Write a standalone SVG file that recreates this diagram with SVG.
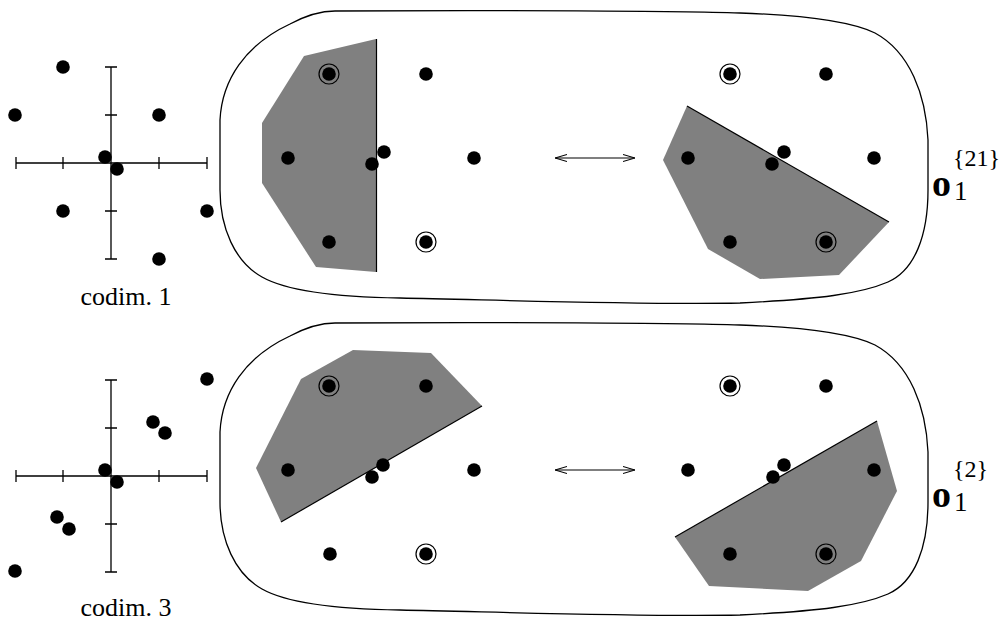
<svg xmlns="http://www.w3.org/2000/svg" width="1001" height="622" viewBox="0 0 1001 622">
<style>
.ax{stroke:#000;stroke-width:1.3;fill:none}
.dot{fill:#000}
.ring{fill:none;stroke:#000;stroke-width:1.2}
.poly{fill:#808080;stroke:none}
.cut{stroke:#000;stroke-width:1.2;fill:none}
.hull{fill:none;stroke:#000;stroke-width:1.3}
.lbl{font-family:"Liberation Serif","Times New Roman",serif;fill:#000}
.arr{stroke:#000;stroke-width:1.1;fill:none}
</style>
<defs>
<path id="outline" d="M 335,11 C 500,10 680,11 740,13 C 800,15 850,21 875,33 C 910,52 926,95 928,140 L 928,190 C 928,235 915,270 888,282 C 860,294 820,299 740,303 C 640,305 500,300 400,298 C 330,297 285,290 262,277 C 235,262 220,228 220,190 L 220,120 C 222,80 245,45 290,24 C 305,16 320,11 335,11 Z"/>
<marker id="ah" viewBox="0 0 12 10" refX="12" refY="5" markerWidth="12" markerHeight="10" markerUnits="userSpaceOnUse" orient="auto-start-reverse">
<path d="M0,1.5 L12,5 L0,8.5" fill="none" stroke="#000" stroke-width="1.1"/>
</marker>
</defs>

<g id="axes-codim1">
<path class="ax" d="M16,163 H207 M111,67 V259 M16,157 V169 M63,157 V169 M159,157 V169 M207,157 V169 M105,67 H117 M105,115 H117 M105,211 H117 M105,259 H117"/>
<circle class="dot" cx="63" cy="67" r="6.8"/>
<circle class="dot" cx="15" cy="115" r="6.8"/>
<circle class="dot" cx="159" cy="115" r="6.8"/>
<circle class="dot" cx="105" cy="157" r="6.8"/>
<circle class="dot" cx="117" cy="169" r="6.8"/>
<circle class="dot" cx="63" cy="211" r="6.8"/>
<circle class="dot" cx="207" cy="211" r="6.8"/>
<circle class="dot" cx="159" cy="259" r="6.8"/>
<text class="lbl" x="126" y="305" font-size="26" text-anchor="middle">codim. 1</text>
</g>

<g id="axes-codim3">
<path class="ax" d="M16,476 H207 M111,380 V572 M16,470 V482 M63,470 V482 M159,470 V482 M207,470 V482 M105,380 H117 M105,428 H117 M105,524 H117 M105,572 H117"/>
<circle class="dot" cx="207" cy="379" r="6.8"/>
<circle class="dot" cx="153" cy="422" r="6.8"/>
<circle class="dot" cx="165" cy="433" r="6.8"/>
<circle class="dot" cx="105" cy="470" r="6.8"/>
<circle class="dot" cx="117" cy="482" r="6.8"/>
<circle class="dot" cx="57" cy="517" r="6.8"/>
<circle class="dot" cx="69" cy="529" r="6.8"/>
<circle class="dot" cx="15" cy="571" r="6.8"/>
<text class="lbl" x="126" y="616" font-size="26" text-anchor="middle">codim. 3</text>
</g>

<g id="panel-top">
<use href="#outline" class="hull"/>
<polygon class="poly" points="304,56 376,39 376,272 316,267 262,183 262,123"/>
<line class="cut" x1="376.5" y1="39" x2="376.5" y2="272" stroke="#333" stroke-width="1.6"/>
<polygon class="poly" points="687,106 889,222 839,275 760,279 708,249 663,160"/>
<line class="cut" x1="687" y1="106" x2="889" y2="222"/>
<g id="top-left-points">
<circle class="ring" cx="329" cy="74" r="10"/>
<circle class="dot" cx="329" cy="74" r="6.8"/>
<circle class="dot" cx="426" cy="74" r="6.8"/>
<circle class="dot" cx="288" cy="158" r="6.8"/>
<circle class="dot" cx="384" cy="152" r="6.8"/>
<circle class="dot" cx="372" cy="164" r="6.8"/>
<circle class="dot" cx="474" cy="158" r="6.8"/>
<circle class="dot" cx="329" cy="242" r="6.8"/>
<circle class="ring" cx="426" cy="242" r="10"/>
<circle class="dot" cx="426" cy="242" r="6.8"/>
</g>
<g id="top-right-points">
<circle class="ring" cx="730" cy="74" r="10"/>
<circle class="dot" cx="730" cy="74" r="6.8"/>
<circle class="dot" cx="826" cy="74" r="6.8"/>
<circle class="dot" cx="688" cy="158" r="6.8"/>
<circle class="dot" cx="784" cy="152" r="6.8"/>
<circle class="dot" cx="772" cy="164" r="6.8"/>
<circle class="dot" cx="874" cy="158" r="6.8"/>
<circle class="dot" cx="730" cy="242" r="6.8"/>
<circle class="ring" cx="826" cy="242" r="10"/>
<circle class="dot" cx="826" cy="242" r="6.8"/>
</g>
<text class="lbl" x="932" y="196" font-size="38" font-weight="bold">o</text>
<text class="lbl" x="954" y="200" font-size="27">1</text>
<text class="lbl" x="953" y="166" font-size="24">{21}</text>
</g>

<g id="panel-bottom">
<use href="#outline" class="hull" transform="translate(0,312)"/>
<polygon class="poly" points="353,350 431,353 482,406 281,522 256,468 301,379"/>
<line class="cut" x1="482" y1="406" x2="281" y2="522"/>
<polygon class="poly" points="877,421 897,491 861,561 808,591 709,586 675,537"/>
<line class="cut" x1="675" y1="537" x2="877" y2="421"/>
<g id="bottom-left-points">
<circle class="ring" cx="329" cy="386" r="10"/>
<circle class="dot" cx="329" cy="386" r="6.8"/>
<circle class="dot" cx="426" cy="386" r="6.8"/>
<circle class="dot" cx="288" cy="470" r="6.8"/>
<circle class="dot" cx="383" cy="465" r="6.8"/>
<circle class="dot" cx="372" cy="477" r="6.8"/>
<circle class="dot" cx="474" cy="470" r="6.8"/>
<circle class="dot" cx="330" cy="554" r="6.8"/>
<circle class="ring" cx="426" cy="554" r="10"/>
<circle class="dot" cx="426" cy="554" r="6.8"/>
</g>
<g id="bottom-right-points">
<circle class="ring" cx="730" cy="386" r="10"/>
<circle class="dot" cx="730" cy="386" r="6.8"/>
<circle class="dot" cx="826" cy="386" r="6.8"/>
<circle class="dot" cx="688" cy="470" r="6.8"/>
<circle class="dot" cx="784" cy="465" r="6.8"/>
<circle class="dot" cx="773" cy="477" r="6.8"/>
<circle class="dot" cx="874" cy="470" r="6.8"/>
<circle class="dot" cx="730" cy="554" r="6.8"/>
<circle class="ring" cx="826" cy="554" r="10"/>
<circle class="dot" cx="826" cy="554" r="6.8"/>
</g>
<text class="lbl" x="932" y="507" font-size="38" font-weight="bold">o</text>
<text class="lbl" x="954" y="511" font-size="27">1</text>
<text class="lbl" x="953" y="477" font-size="24">{2}</text>
</g>

<g id="connectors">
<line class="arr" x1="555" y1="158" x2="635" y2="158" marker-start="url(#ah)" marker-end="url(#ah)"/>
<line class="arr" x1="555" y1="470" x2="635" y2="470" marker-start="url(#ah)" marker-end="url(#ah)"/>
</g>
</svg>
